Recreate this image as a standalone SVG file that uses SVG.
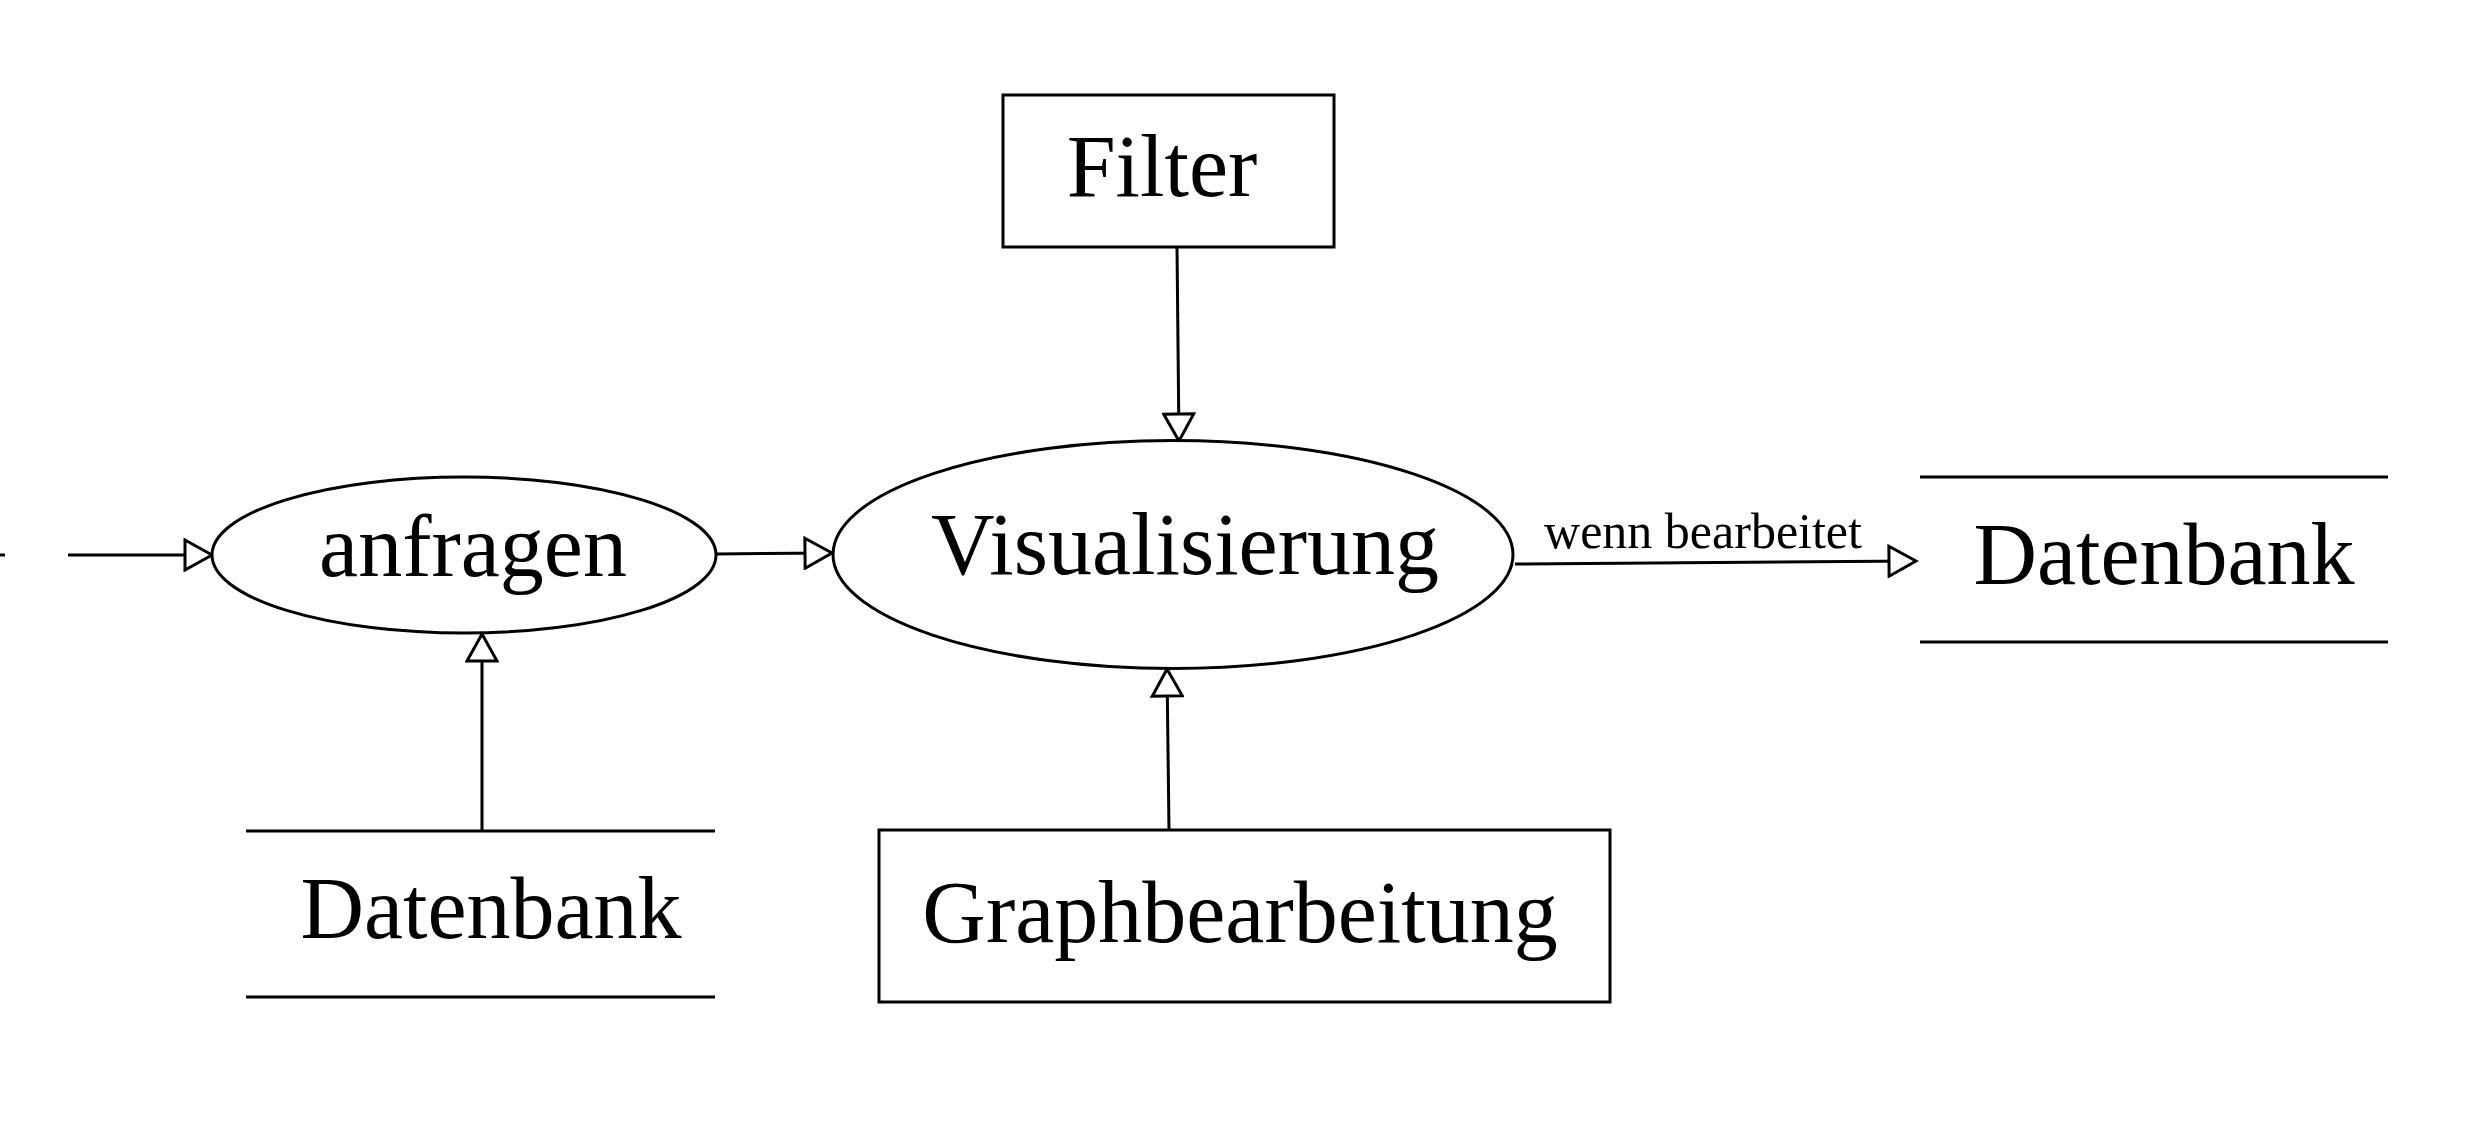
<svg xmlns="http://www.w3.org/2000/svg" width="2480" height="1147" viewBox="0 0 2480 1147">
<style>
.shape{fill:#fff;stroke:#000;stroke-width:3}
.line{fill:none;stroke:#000;stroke-width:3}
.lbl{font-family:"Liberation Serif","Times New Roman",serif;font-size:88px;fill:#000;text-anchor:middle}
.edge{font-family:"Liberation Serif","Times New Roman",serif;font-size:50px;fill:#000;text-anchor:middle}
.conn{fill:none;stroke:#000;stroke-width:3;marker-end:url(#open)}
</style>
<defs>
<marker id="open" markerUnits="userSpaceOnUse" viewBox="-2 -2 32 34" refX="27" refY="15" markerWidth="32" markerHeight="34" orient="auto">
<path d="M0,0 L27,15 L0,30 Z" fill="#fff" stroke="#000" stroke-width="3" stroke-linejoin="miter"/>
</marker>
</defs>
<rect width="2480" height="1147" fill="#fff"/>
<g id="connectors">
<line class="line" x1="0" y1="555" x2="5" y2="555"/>
<line class="conn" x1="68" y1="555" x2="212" y2="555"/>
<line class="conn" x1="716" y1="554" x2="832" y2="553"/>
<line class="conn" x1="1177" y1="247" x2="1179" y2="441"/>
<line class="conn" x1="1515" y1="564" x2="1916" y2="561"/>
<line class="conn" x1="482" y1="831" x2="482" y2="634"/>
<line class="conn" x1="1169" y1="830" x2="1167" y2="669"/>
<text class="edge" x="1703" y="548">wenn bearbeitet</text>
</g>
<g id="anfragen">
<ellipse class="shape" cx="464" cy="555" rx="252" ry="78"/>
<text class="lbl" x="473" y="576">anfragen</text>
</g>
<g id="visualisierung">
<ellipse class="shape" cx="1173" cy="554.5" rx="340" ry="114"/>
<text class="lbl" x="1185" y="574">Visualisierung</text>
</g>
<g id="filter">
<rect class="shape" x="1003" y="95" width="331" height="152"/>
<text class="lbl" x="1162" y="196">Filter</text>
</g>
<g id="graphbearbeitung">
<rect class="shape" x="879" y="830" width="731" height="172"/>
<text class="lbl" x="1240" y="942">Graphbearbeitung</text>
</g>
<g id="datenbank-links">
<line class="line" x1="246" y1="831" x2="715" y2="831"/>
<line class="line" x1="246" y1="997" x2="715" y2="997"/>
<text class="lbl" x="491" y="938">Datenbank</text>
</g>
<g id="datenbank-rechts">
<line class="line" x1="1920" y1="477" x2="2388" y2="477"/>
<line class="line" x1="1920" y1="642" x2="2388" y2="642"/>
<text class="lbl" x="2164" y="584">Datenbank</text>
</g>
</svg>
